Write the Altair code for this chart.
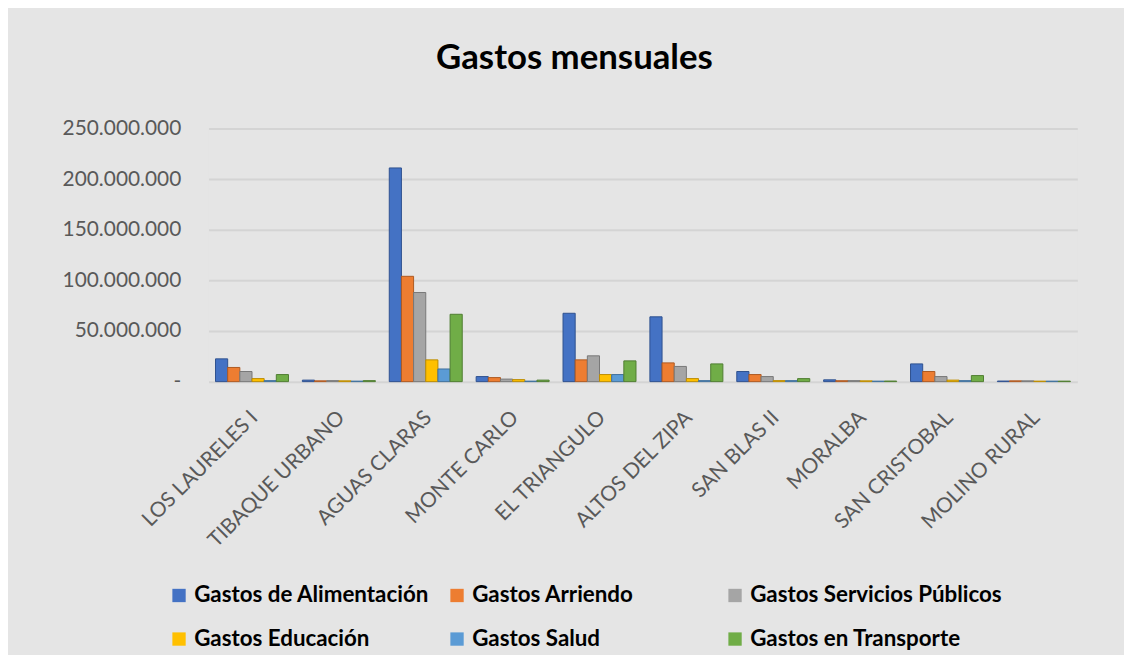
import altair as alt
import pandas as pd

categories = ["LOS LAURELES I", "TIBAQUE URBANO", "AGUAS CLARAS", "MONTE CARLO",
              "EL TRIANGULO", "ALTOS DEL ZIPA", "SAN BLAS II", "MORALBA",
              "SAN CRISTOBAL", "MOLINO RURAL"]
series = ["Gastos de Alimentación", "Gastos Arriendo", "Gastos Servicios Públicos",
          "Gastos Educación", "Gastos Salud", "Gastos en Transporte"]
colors = ["#4472c4", "#ed7d31", "#a5a5a5", "#ffc000", "#5b9bd5", "#70ad47"]
edge_colors = ["#2f528f", "#ae5a21", "#787878", "#bc8c00", "#41719c", "#507e32"]

alimentacion = [22500000, 1500000, 211000000, 5000000, 67500000, 64000000, 10000000, 1800000, 17500000, 600000]
arriendo = [14000000, 800000, 104000000, 4000000, 21500000, 18500000, 7000000, 900000, 10000000, 800000]
servicios = [10000000, 1000000, 88000000, 2500000, 25500000, 15000000, 5000000, 1000000, 5000000, 800000]
educacion = [3000000, 800000, 21500000, 2000000, 7000000, 3000000, 1000000, 800000, 1500000, 500000]
salud = [1000000, 500000, 12500000, 500000, 7000000, 1000000, 1000000, 500000, 1000000, 500000]
transporte = [7000000, 1000000, 66500000, 1500000, 20500000, 17500000, 3000000, 600000, 6000000, 500000]

y_ticks = [0, 50000000, 100000000, 150000000, 200000000, 250000000]

values = [alimentacion, arriendo, servicios, educacion, salud, transporte]
rows = []
for s, vals in zip(series, values):
    for c, v in zip(categories, vals):
        rows.append({"Barrio": c, "Serie": s, "Valor": v})
df = pd.DataFrame(rows)

FONT = "Lato"

bars = alt.Chart(df).mark_bar(strokeWidth=1).encode(
    x=alt.X("Barrio:N", sort=categories,
            scale=alt.Scale(paddingInner=0.16, paddingOuter=0.08),
            axis=alt.Axis(title=None, labelAngle=-45, labelFontSize=21,
                          labelColor="#595959", labelFont=FONT, ticks=False,
                          domain=False, labelPadding=25, labelOffset=-5, labelLimit=300)),
    xOffset=alt.XOffset("Serie:N", sort=series, scale=alt.Scale(paddingInner=0.0)),
    y=alt.Y("Valor:Q", scale=alt.Scale(domain=[0, 250000000], nice=False),
            axis=alt.Axis(title=None, values=y_ticks, labelFontSize=21,
                          labelColor="#595959", labelFont=FONT, ticks=False,
                          domain=False, labelPadding=28, gridColor="#d4d4d4",
                          gridWidth=2,
                          labelExpr="datum.value == 0 ? '-' : replace(format(datum.value, ','), /,/g, '.')")),
    color=alt.Color("Serie:N", sort=series,
                    scale=alt.Scale(domain=series, range=colors),
                    legend=alt.Legend(title=None, orient="none", legendX=-41, legendY=459,
                                      direction="horizontal", columns=3, gridAlign="all",
                                      symbolType="square", symbolSize=180,
                                      symbolStrokeWidth=0, labelFontSize=22.5,
                                      labelFontWeight="bold", labelColor="#000000",
                                      labelFont=FONT, columnPadding=0, rowPadding=21,
                                      labelLimit=400, symbolOffset=0)),
    stroke=alt.Color("Serie:N", sort=series,
                     scale=alt.Scale(domain=series, range=edge_colors),
                     legend=None),
)

chart = bars.properties(
    width=875,
    height=255,
    padding={"left": 202, "top": 119, "right": 47, "bottom": 273},
    autosize=alt.AutoSizeParams(type="none"),
    background="#e5e5e5",
    title=alt.TitleParams("Gastos mensuales", fontSize=35, font=FONT, fontWeight="bold",
                          color="#000000", anchor="middle", frame="group", dx=-69, offset=42),
).configure_view(stroke=None, fill="#e5e5e5")

chart.save("out.html", embed_options={"renderer": "svg", "actions": False})
